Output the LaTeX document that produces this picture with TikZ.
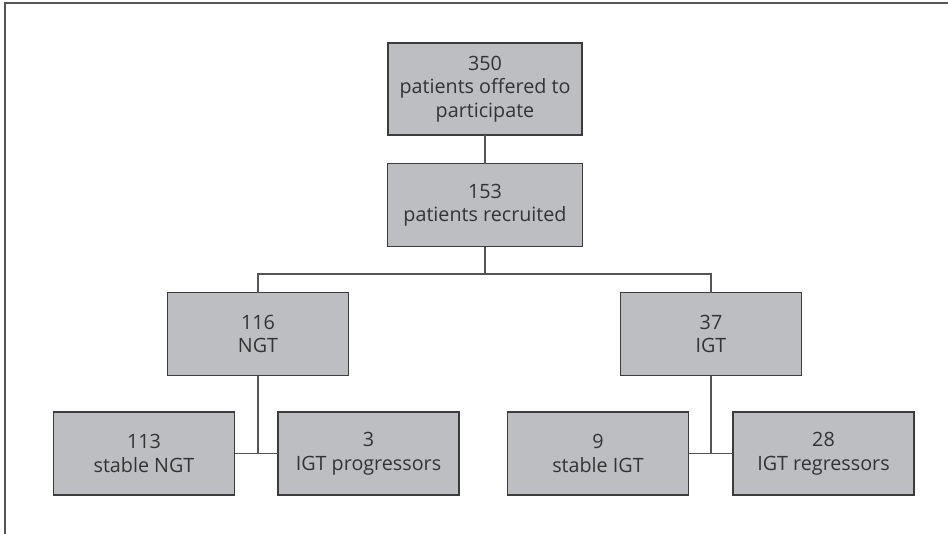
\documentclass[tikz,border=0pt]{standalone}
\usepackage{fontspec}
\setmainfont{Open Sans}
\usepackage{tikz}
\usepackage{xcolor}
\definecolor{boxgray}{HTML}{BDBEC2}
\definecolor{edgegray}{HTML}{3C3C3C}
\definecolor{linegray}{HTML}{555555}
\definecolor{textgray}{HTML}{333333}

\begin{document}
\begin{tikzpicture}[x=0.75pt, y=-0.75pt,
                    line cap=rect,
                    group/.style={draw=edgegray, fill=boxgray, line width=0.8pt,
                                  align=center, text=textgray, inner sep=0pt,
                                  minimum height=83*0.75pt},
                    link/.style={linegray, line width=0.8pt}]
  \fontsize{14.8}{17.6}\selectfont
  \def\bw{181*0.75pt} % box width

  \useasboundingbox (0,0) rectangle (948,533);

  % FRAME (top and left rules only)
  \draw[linegray, line width=0.8pt] (948,3) -- (5,3) -- (5,533);

  % BOXES
  \node[group, minimum width=194*0.75pt, minimum height=92*0.75pt] (offered) at (485,89)
    {350\\patients offered to\\participate};
  \node[group, minimum width=195*0.75pt] (recruited) at (485,205)
    {153\\patients recruited};
  \node[group, minimum width=\bw] (ngt) at (258,334) {116\\NGT};
  \node[group, minimum width=\bw] (igt) at (711,334) {37\\IGT};
  \node[group, minimum width=\bw] (stablengt) at (144,453.5) {113\\stable NGT};
  \node[group, minimum width=\bw] (progress) at (368.5,453.5) {3\\IGT progressors};
  \node[group, minimum width=\bw] (stableigt) at (598,453.5) {9\\stable IGT};
  \node[group, minimum width=\bw] (regress) at (823.5,453.5) {28\\IGT regressors};

  % CONNECTORS
  \coordinate (split) at (485,274);
  \draw[link] (offered) -- (recruited);
  \draw[link] (recruited) -- (split);
  \draw[link] (ngt.north) |- (split) -| (igt.north);
  \draw[link] (stablengt) -- (progress);
  \draw[link] (ngt) -- (ngt.south |- stablengt.east);
  \draw[link] (stableigt) -- (regress);
  \draw[link] (igt) -- (igt.south |- stableigt.east);

\end{tikzpicture}
\end{document}
